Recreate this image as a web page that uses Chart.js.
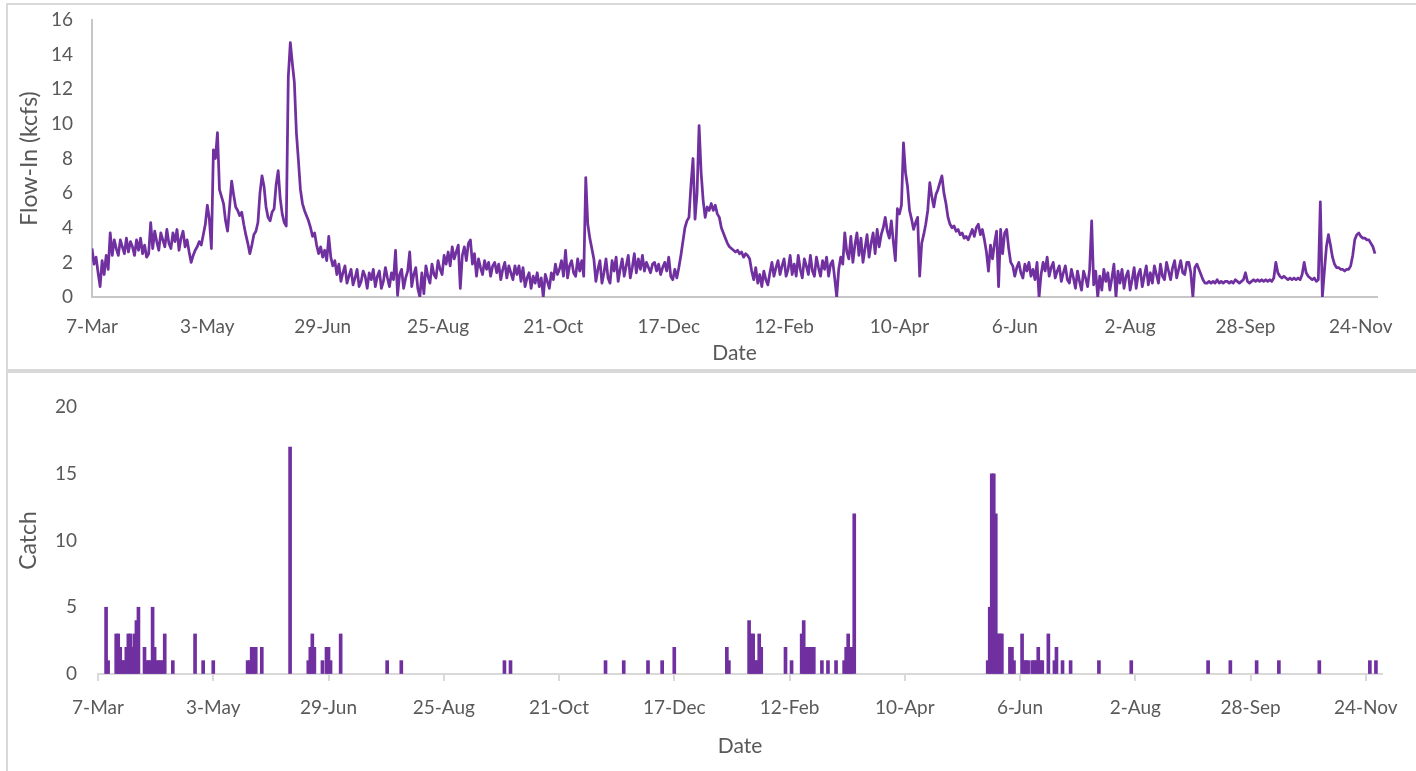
<!DOCTYPE html>
<html>
<head>
<meta charset="utf-8">
<title>Flow-In and Catch</title>
<script src="https://cdn.jsdelivr.net/npm/chart.js@4.4.1/dist/chart.umd.min.js"></script>
<style>
    html, body { margin: 0; padding: 0; background: #fff; }
    body { width: 1416px; height: 771px; position: relative; overflow: hidden; }
    .panel { position: absolute; left: 6px; width: 1440px; border: 2px solid #d9d9d9; box-sizing: border-box; }
    #flowPanel { top: 3px; height: 368px; }
    #catchPanel { top: 371px; height: 420px; }
    canvas { position: absolute; left: 0; }
    #flowChart { top: 0; }
    #catchChart { top: 371px; }
</style>
</head>
<body>
<div class="panel" id="flowPanel"></div>
<div class="panel" id="catchPanel"></div>
<canvas id="flowChart" width="1416" height="370"></canvas>
<canvas id="catchChart" width="1416" height="400"></canvas>
<script>
// x axis is days since 7-Mar, labelled every 57 days
const tickDays = [0, 57, 114, 171, 228, 285, 342, 399, 456, 513, 570, 627];
const tickLabels = ['7-Mar', '3-May', '29-Jun', '25-Aug', '21-Oct', '17-Dec', '12-Feb', '10-Apr', '6-Jun', '2-Aug', '28-Sep', '24-Nov'];
const lastDay = 635;

// daily flow-in (kcfs), one value per day from 7-Mar
const flowIn = [
    2.8, 1.9, 2.3, 1.4, 0.6, 2.1, 1.3, 2.4, 1.6, 3.7,
    2.4, 3.3, 2.8, 2.4, 3.3, 2.9, 2.5, 3.4, 2.6, 3.2,
    2.9, 2.4, 3.3, 2.7, 3.4, 2.5, 3.0, 2.3, 2.5, 4.3,
    2.8, 3.8, 3.2, 2.7, 3.7, 3.3, 2.9, 3.9, 3.1, 2.8,
    3.7, 3.2, 3.9, 2.7, 3.4, 3.8, 2.9, 3.3, 2.6, 2.0,
    2.4, 2.7, 2.9, 3.2, 3.0, 3.6, 4.2, 5.3, 4.5, 2.8,
    8.5, 8.0, 9.5, 6.2, 5.8, 5.4, 4.4, 3.8, 5.2, 6.7,
    5.9, 5.2, 5.0, 4.7, 4.9, 4.2, 3.6, 3.1, 2.5, 3.0,
    3.6, 3.8, 4.3, 6.0, 7.0, 6.4, 5.2, 4.6, 4.4, 4.9,
    5.1, 6.5, 7.3, 5.7, 4.8, 4.3, 4.1, 12.7, 14.7, 13.5,
    12.4, 9.5, 7.9, 6.2, 5.4, 5.0, 4.7, 4.4, 4.0, 3.5,
    3.7, 3.0, 2.5, 2.9, 2.3, 2.7, 2.1, 3.5, 2.3, 1.8,
    2.1, 1.3, 1.9, 0.9, 1.4, 1.8, 0.8, 1.2, 1.6, 0.7,
    1.1, 1.6, 0.6, 0.9, 1.5, 1.2, 0.5, 1.4, 1.0, 1.6,
    0.6, 1.2, 1.5, 0.5, 0.9, 1.7, 1.1, 0.6, 1.4, 1.0,
    2.7, 0.1, 1.3, 1.6, 0.5, 1.1, 1.5, 2.6, 0.6, 1.3,
    1.7, 0.5, 0.0, 1.4, 0.2, 1.8, 1.2, 0.8, 1.9, 1.3,
    1.1, 2.1, 1.6, 1.3, 2.4, 1.9, 2.6, 1.8, 2.9, 2.2,
    2.6, 3.0, 0.5, 2.4, 2.9, 2.1, 3.1, 3.3, 1.9, 2.5,
    1.2, 2.2, 1.7, 1.3, 2.1, 1.6, 2.0, 1.2, 1.8, 2.0,
    1.4, 1.9, 1.0, 1.6, 2.0, 1.1, 1.8, 1.4, 1.0, 1.8,
    1.3, 1.8, 0.9, 1.7, 0.6, 1.1, 1.4, 0.5, 1.2, 0.8,
    1.4, 0.6, 1.1, 0.0, 1.3, 0.9, 0.5, 1.4, 1.0, 1.9,
    1.3, 1.6, 2.1, 1.2, 2.7, 1.1, 1.8, 2.1, 1.4, 1.2,
    2.2, 1.5, 2.1, 1.2, 6.9, 4.2, 3.4, 2.8, 2.2, 0.9,
    1.6, 2.1, 0.8, 1.4, 2.2, 1.1, 0.8, 2.1, 1.5, 2.3,
    0.9, 1.6, 2.2, 1.2, 1.8, 2.4, 1.1, 1.7, 2.5, 1.4,
    2.2, 1.6, 2.4, 1.5, 2.0, 1.7, 1.4, 1.9, 2.0, 1.5,
    1.9, 1.3, 1.7, 2.0, 1.5, 2.3, 1.2, 1.0, 1.6, 1.1,
    1.7, 2.4, 3.2, 4.0, 4.4, 4.6, 6.5, 8.0, 4.5, 6.0,
    9.9, 7.2, 5.6, 4.6, 5.2, 5.0, 5.4, 5.0, 5.3, 4.8,
    4.6, 4.0, 3.7, 3.4, 3.1, 2.9, 2.8, 2.7, 2.6, 2.7,
    2.5, 2.6, 2.3, 2.5, 2.4, 2.2, 1.5, 1.0, 1.7, 0.8,
    1.3, 0.6, 1.5, 1.0, 0.7, 1.4, 2.0, 1.2, 1.7, 2.1,
    1.3, 1.8, 2.2, 1.2, 1.6, 2.4, 1.3, 1.9, 1.2, 2.4,
    1.6, 1.1, 2.2, 1.8, 1.3, 2.4, 1.5, 1.2, 2.3, 1.7,
    1.2, 2.1, 1.6, 2.3, 1.2, 1.9, 2.1, 1.1, 0.0, 1.6,
    2.3, 1.9, 3.7, 2.6, 2.2, 3.5, 2.0, 3.0, 3.7, 2.4,
    3.4, 2.0, 2.8, 3.6, 2.3, 3.1, 3.7, 2.5, 3.9, 2.9,
    3.6, 4.0, 4.6, 3.8, 3.4, 4.4, 3.2, 2.1, 5.1, 4.8,
    5.3, 8.9, 7.2, 6.4, 5.0, 4.5, 3.9, 4.3, 4.6, 1.2,
    3.1, 3.6, 4.2, 5.0, 6.6, 5.8, 5.2, 5.9, 6.2, 6.6,
    7.0, 6.0, 5.4, 4.6, 4.2, 4.0, 4.1, 3.8, 3.9, 3.6,
    3.7, 3.4, 3.5, 3.3, 3.6, 3.9, 3.5, 4.0, 4.2, 3.6,
    3.9, 3.3, 2.6, 1.5, 3.0, 2.2, 3.1, 3.8, 0.6, 3.9,
    2.5, 3.7, 3.9, 2.8, 2.0, 1.8, 1.2, 1.7, 2.0, 1.4,
    1.1, 1.9, 1.5, 2.0, 1.2, 1.6, 1.0, 2.0, 0.0, 1.3,
    2.0, 1.5, 2.3, 1.2, 1.7, 2.0, 1.1, 1.5, 1.8, 0.9,
    1.4, 1.8, 1.0, 0.8, 1.6, 1.1, 0.5, 1.5, 0.9, 0.4,
    1.5, 1.1, 0.6, 1.6, 4.4, 0.7, 1.5, 0.0, 1.2, 0.4,
    1.6, 0.9, 1.4, 0.4, 1.1, 1.9, 0.0, 1.5, 0.8, 1.6,
    0.5, 1.2, 1.5, 0.4, 1.0, 1.7, 0.5, 1.3, 1.6, 0.6,
    1.2, 1.8, 0.7, 1.4, 0.8, 1.8, 1.3, 0.8, 1.9, 1.2,
    1.0, 2.0, 1.5, 1.0, 1.7, 2.1, 1.1, 1.6, 2.1, 1.4,
    1.3, 2.0, 2.0, 1.4, 0.0, 1.7, 1.9, 1.6, 1.3, 1.0,
    0.8, 0.8, 0.9, 0.8, 0.9, 0.8, 1.0, 0.8, 0.9, 0.8,
    0.9, 0.9, 0.8, 0.9, 0.8, 1.0, 0.9, 0.8, 0.9, 1.0,
    1.4, 0.9, 0.8, 0.9, 1.0, 0.9, 1.0, 0.9, 1.0, 0.9,
    1.0, 0.9, 1.0, 0.9, 1.1, 2.0, 1.4, 1.2, 1.1, 1.2,
    1.1, 1.0, 1.1, 1.0, 1.1, 1.0, 1.1, 1.0, 1.3, 2.0,
    1.4, 1.2, 1.1, 1.0, 1.1, 0.9, 1.0, 5.5, 0.0, 1.5,
    2.9, 3.6, 3.0, 2.3, 1.9, 1.7, 1.7, 1.6, 1.6, 1.5,
    1.6, 1.6, 1.8, 2.4, 3.3, 3.6, 3.7, 3.5, 3.4, 3.4,
    3.3, 3.3, 3.1, 2.9, 2.5
];

// days (since 7-Mar) with a catch, and the number caught that day
const catchDays = [
    4, 5, 9, 10, 11, 12, 13, 14, 15, 16, 17, 18, 19, 20,
    23, 24, 25, 26, 27, 28, 29, 30, 31, 32, 33, 37, 48, 52, 57,
    74, 75, 76, 77, 78, 81, 95, 104, 105, 106, 107, 111, 113, 114, 115, 120,
    143, 150, 201, 204, 251, 260, 272, 279, 285,
    311, 312, 322, 323, 324, 325, 326, 327, 328, 340, 343,
    348, 349, 350, 351, 352, 353, 354, 358, 361, 365,
    369, 370, 371, 372, 373, 374,
    440, 441, 442, 443, 444, 445, 446, 447, 451, 452, 453,
    457, 458, 459, 460, 462, 463, 464, 465, 466, 467, 470, 473, 474, 477, 481,
    495, 511, 549, 560, 573, 584, 604, 629, 632
];
const catchCount = [
    5, 1, 3, 3, 2, 1, 1, 2, 3, 3, 2, 3, 4, 5,
    2, 1, 1, 1, 5, 2, 1, 1, 1, 1, 3, 1, 3, 1, 1,
    1, 1, 2, 2, 2, 2, 17, 1, 2, 3, 2, 1, 2, 2, 1, 3,
    1, 1, 1, 1, 1, 1, 1, 1, 2,
    2, 1, 4, 3, 3, 1, 1, 3, 2, 2, 1,
    3, 4, 2, 2, 2, 2, 2, 1, 1, 1,
    1, 2, 3, 2, 2, 12,
    1, 5, 15, 15, 12, 3, 3, 3, 2, 2, 1,
    3, 1, 1, 1, 1, 1, 1, 2, 1, 1, 3, 1, 2, 1, 1,
    1, 1, 1, 1, 1, 1, 1, 1, 1
];

const PURPLE = '#7030a0';
const TEXT = '#595959';
const FONT = 'Lato, "Open Sans", sans-serif';

function dateAxis(opts) {
    return {
        type: 'linear',
        min: 0,
        max: lastDay,
        offset: false,
        afterBuildTicks: function(scale) {
            scale.ticks = tickDays.map(v => ({ value: v }));
        },
        afterFit: function(scale) {
            scale.height = opts.height;
        },
        ticks: {
            autoSkip: false,
            maxRotation: 0,
            padding: opts.labelPad,
            color: TEXT,
            font: { family: FONT, size: 19 },
            callback: function(value, index) {
                return tickLabels[index];
            }
        },
        grid: {
            display: true,
            offset: false,
            drawOnChartArea: false,
            drawTicks: opts.tickLen > 0,
            tickLength: opts.tickLen,
            color: opts.axisColor,
            lineWidth: 2
        },
        border: { display: true, color: opts.axisColor, width: 2 },
        title: {
            display: true,
            text: 'Date',
            color: TEXT,
            font: { family: FONT, size: 21 },
            padding: { top: 0, bottom: opts.titlePad }
        }
    };
}

function valueAxis(opts) {
    return {
        min: 0,
        max: opts.max,
        afterFit: function(scale) {
            // fixed gutter; the layout padding already leaves room for the top label
            scale.width = opts.width;
            scale.paddingTop = 0;
            scale.paddingBottom = 0;
        },
        ticks: {
            stepSize: opts.step,
            padding: opts.labelPad,
            color: TEXT,
            font: { family: FONT, size: 19 }
        },
        grid: { display: true, drawOnChartArea: false, drawTicks: false },
        border: { display: opts.axisColor !== null, color: opts.axisColor || '#fff', width: 2 },
        title: {
            display: true,
            text: opts.title,
            color: TEXT,
            font: { family: FONT, size: 23 },
            padding: { top: opts.titlePad, bottom: 0 }
        }
    };
}

const baseOptions = {
    responsive: false,
    animation: false,
    events: [],
    plugins: {
        legend: { display: false },
        tooltip: { enabled: false }
    }
};

new Chart(document.getElementById('flowChart'), {
    type: 'line',
    data: {
        datasets: [{
            data: flowIn.map((v, i) => ({ x: i, y: v })),
            borderColor: PURPLE,
            borderWidth: 2.75,
            borderJoinStyle: 'round',
            pointRadius: 0,
            tension: 0,
            fill: false
        }]
    },
    options: {
        ...baseOptions,
        layout: { padding: { left: 0, top: 20, right: 39, bottom: 0 } },
        scales: {
            x: dateAxis({ height: 73, labelPad: 18, tickLen: 0, axisColor: '#c6c6c6', titlePad: 4 }),
            y: valueAxis({ max: 16, step: 2, width: 92, labelPad: 19, axisColor: '#c6c6c6', title: 'Flow-In (kcfs)', titlePad: 16 })
        }
    }
});

new Chart(document.getElementById('catchChart'), {
    type: 'bar',
    data: {
        datasets: [{
            data: catchDays.map((d, i) => ({ x: d, y: catchCount[i] })),
            backgroundColor: PURPLE,
            borderWidth: 0,
            barThickness: 3
        }]
    },
    options: {
        ...baseOptions,
        layout: { padding: { left: 0, top: 36, right: 34, bottom: 0 } },
        scales: {
            x: dateAxis({ height: 97, labelPad: 15, tickLen: 7, axisColor: '#d9d9d9', titlePad: 12 }),
            y: valueAxis({ max: 20, step: 5, width: 98, labelPad: 21, axisColor: null, title: 'Catch', titlePad: 15 })
        }
    }
});
</script>
</body>
</html>
